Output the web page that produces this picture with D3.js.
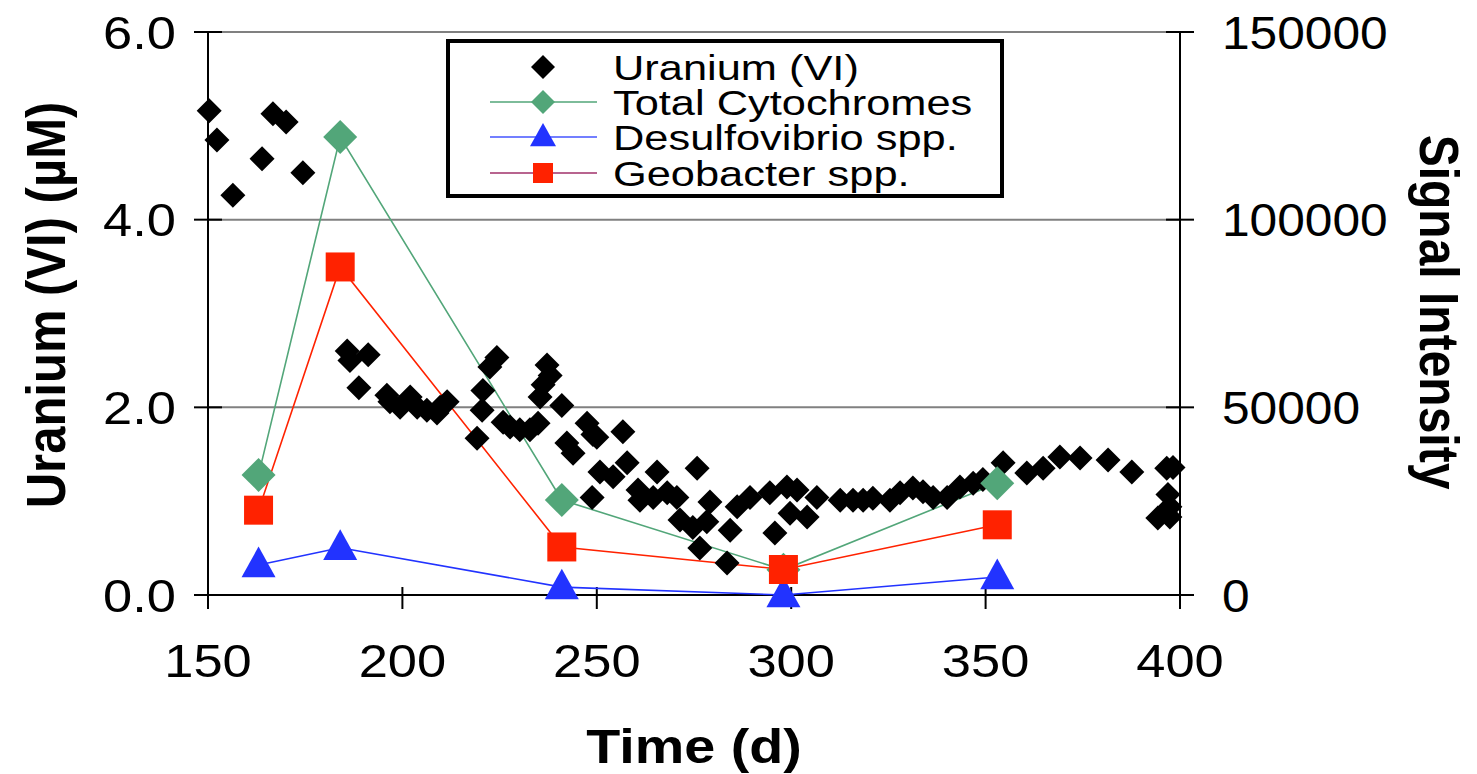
<!DOCTYPE html>
<html><head><meta charset="utf-8">
<script src="https://cdn.jsdelivr.net/npm/d3@7"></script>
<style>body{margin:0;background:#fff}svg{display:block}text{font-family:"Liberation Sans",Arial,sans-serif}</style>
</head><body>
<svg id="c" width="1477" height="774"></svg>
<script>
// Uranium (VI) data: [day, µM]
const uraniumDays = [150.3,152.3,156.4,163.9,166.7,170.1,174.4,185.8,186.5,191.2,188.8,196.0,196.8,199.4,202.0,203.8,206.3,208.9,211.5,209.7,219.2,220.5,220.7,222.5,224.3,225.9,227.7,230.2,232.8,234.9,235.4,236.2,237.2,238.0,241.0,242.3,243.9,247.5,249.0,250.0,256.7,250.8,254.2,257.8,248.8,260.6,261.1,264.5,265.5,268.1,270.6,275.8,271.4,274.7,278.3,279.1,276.5,283.5,284.3,286.1,289.4,294.5,295.8,298.9,299.7,301.5,304.1,306.6,312.6,315.9,318.5,321.0,325.4,328.0,331.3,333.9,336.5,340.1,343.4,346.8,349.3,354.5,360.6,364.8,369.1,374.3,381.5,387.6,396.6,398.2,396.9,397.4,394.3,397.4];
const uraniumValues = [5.16,4.85,4.26,4.65,5.13,5.04,4.50,2.60,2.50,2.56,2.21,2.13,2.06,2.00,2.11,2.00,1.97,1.94,2.06,2.00,1.67,1.97,2.18,2.43,2.53,1.84,1.79,1.76,1.76,1.83,2.11,2.24,2.45,2.34,2.02,1.62,1.51,1.83,1.71,1.68,1.74,1.31,1.26,1.41,1.04,1.12,1.01,1.04,1.31,1.09,1.04,1.35,0.80,0.72,0.78,0.99,0.50,0.34,0.69,0.94,1.04,1.09,0.66,1.15,0.87,1.12,0.83,1.04,1.01,1.01,1.01,1.03,1.01,1.09,1.14,1.10,1.04,1.04,1.15,1.19,1.23,1.41,1.30,1.35,1.47,1.46,1.44,1.31,1.35,1.36,1.07,0.94,0.82,0.83];
// Microarray sampling days and signal intensities
const arrayDays = [163, 184, 241, 298, 353];
const cytochromes = [32000, 122000, 25300, 6700, 29800];
const desulfovibrio = [8000, 12600, 2100, 0, 4800];
const geobacter = [22600, 87400, 12800, 6800, 18700];
// Axis ticks
const xTicks = [150, 200, 250, 300, 350, 400];
const yLeftTicks = [0, 2, 4, 6];
const yRightTicks = [0, 50000, 100000, 150000];
const legendLabels = ["Uranium (VI)", "Total Cytochromes", "Desulfovibrio spp.", "Geobacter spp."];

const svg = d3.select("#c");
const L = 208, R = 1180, T = 32, B = 595;
const x = d3.scaleLinear().domain([150, 400]).range([L, R]);
const yL = d3.scaleLinear().domain([0, 6]).range([B, T]);
const yR = d3.scaleLinear().domain([0, 150000]).range([B, T]);
const SX = 1.14; // horizontal stretch of the reference lettering

// gridlines
svg.append("g").selectAll("line").data(yLeftTicks.filter(d => d > 0)).join("line")
  .attr("x1", L).attr("x2", R).attr("y1", d => yL(d)).attr("y2", d => yL(d))
  .attr("stroke", "#808080").attr("stroke-width", 2);

// axes lines
const ax = svg.append("g").attr("stroke", "#000").attr("stroke-width", 2);
ax.append("line").attr("x1", L).attr("x2", L).attr("y1", T).attr("y2", B + 14);
ax.append("line").attr("x1", R).attr("x2", R).attr("y1", T).attr("y2", B + 14);
ax.append("line").attr("x1", L - 14).attr("x2", R + 14).attr("y1", B).attr("y2", B);
ax.selectAll(".tl").data(yLeftTicks).join("line").attr("x1", L - 14).attr("x2", L + 14)
  .attr("y1", d => yL(d)).attr("y2", d => yL(d));
ax.selectAll(".tr").data(yRightTicks).join("line").attr("x1", R - 14).attr("x2", R + 14)
  .attr("y1", d => yR(d)).attr("y2", d => yR(d));
ax.selectAll(".tx").data(xTicks).join("line").attr("x1", d => x(d)).attr("x2", d => x(d))
  .attr("y1", B - 8).attr("y2", B + 14);

// tick labels
const fs = 46;
svg.append("g").selectAll("text").data(yLeftTicks).join("text")
  .attr("transform", d => `translate(${L - 32},${yL(d)}) scale(${SX},1)`).attr("dy", "0.36em")
  .attr("text-anchor", "end").attr("font-size", fs).text(d => d.toFixed(1));
svg.append("g").selectAll("text").data(yRightTicks).join("text")
  .attr("transform", d => `translate(${R + 42},${yR(d)}) scale(1.08,1)`).attr("dy", "0.36em")
  .attr("text-anchor", "start").attr("font-size", fs).text(d => d);
svg.append("g").selectAll("text").data(xTicks).join("text")
  .attr("transform", d => `translate(${x(d)},660) scale(${SX},1)`).attr("dy", "0.36em")
  .attr("text-anchor", "middle").attr("font-size", fs).text(d => d);

// axis titles
svg.append("text").attr("transform", `translate(694,746) scale(1.16,1)`).attr("dy", "0.36em")
  .attr("text-anchor", "middle").attr("font-size", 48).attr("font-weight", "bold").text("Time (d)");
svg.append("text").attr("transform", "translate(45,305) rotate(-90) scale(1,1.15)").attr("dy", "0.36em")
  .attr("text-anchor", "middle").attr("font-size", 49).attr("font-weight", "bold").text("Uranium (VI) (µM)");
svg.append("text").attr("transform", "translate(1440,312) rotate(90) scale(1,1.15)").attr("dy", "0.36em")
  .attr("text-anchor", "middle").attr("font-size", 48).attr("font-weight", "bold").text("Signal Intensity");

// series
const series = [
  {vals: cytochromes, color: "#52a679", shape: "diamond", size: 34},
  {vals: desulfovibrio, color: "#2233ff", shape: "triangle", size: 34},
  {vals: geobacter, color: "#ff2200", shape: "square", size: 29}
];
const line = d3.line().x(d => x(d[0])).y(d => yR(d[1]));
function shapePath(shape, s) {
  if (shape === "diamond") { const h = s / 2; return `M0,${-h}L${h},0L0,${h}L${-h},0Z`; }
  if (shape === "square") { const h = s / 2; return `M${-h},${-h}H${h}V${h}H${-h}Z`; }
  const w = s / 2, hh = s * 0.9; return `M0,${-hh * 0.6}L${w},${hh * 0.4}L${-w},${hh * 0.4}Z`;
}
series.forEach(sr => {
  const pts = arrayDays.map((d, i) => [d, sr.vals[i]]);
  svg.append("path").attr("d", line(pts)).attr("fill", "none").attr("stroke", sr.color).attr("stroke-width", 1.6);
});

const upts = uraniumDays.map((d, i) => [d, uraniumValues[i]]);
svg.append("g").selectAll("path").data(upts).join("path")
  .attr("transform", d => `translate(${x(d[0])},${yL(d[1])})`)
  .attr("d", shapePath("diamond", 25)).attr("fill", "#000");

series.forEach(sr => {
  const pts = arrayDays.map((d, i) => [d, sr.vals[i]]);
  svg.append("g").selectAll("path").data(pts).join("path")
    .attr("transform", d => `translate(${x(d[0])},${yR(d[1])})`)
    .attr("d", shapePath(sr.shape, sr.size)).attr("fill", sr.color);
});

// legend
const lg = svg.append("g");
lg.append("rect").attr("x", 448).attr("y", 41).attr("width", 554).attr("height", 155)
  .attr("fill", "#fff").attr("stroke", "#000").attr("stroke-width", 4);
const rows = [67, 102, 137, 173];
const legendItems = [
  {color: "#000", shape: "diamond", size: 24, line: null},
  {color: "#52a679", shape: "diamond", size: 24, line: "#52a679"},
  {color: "#2233ff", shape: "triangle", size: 26, line: "#4455ff"},
  {color: "#ff2200", shape: "square", size: 20, line: "#a0306a"}
];
legendItems.forEach((it, i) => {
  if (it.line) lg.append("line").attr("x1", 490).attr("x2", 597).attr("y1", rows[i]).attr("y2", rows[i])
    .attr("stroke", it.line).attr("stroke-width", 1.5);
  lg.append("path").attr("transform", `translate(543,${rows[i]})`).attr("d", shapePath(it.shape, it.size)).attr("fill", it.color);
  lg.append("text").attr("transform", `translate(613,${rows[i]}) scale(1.24,1)`).attr("dy", "0.36em")
    .attr("font-size", 35).text(legendLabels[i]);
});
</script>
</body></html>
